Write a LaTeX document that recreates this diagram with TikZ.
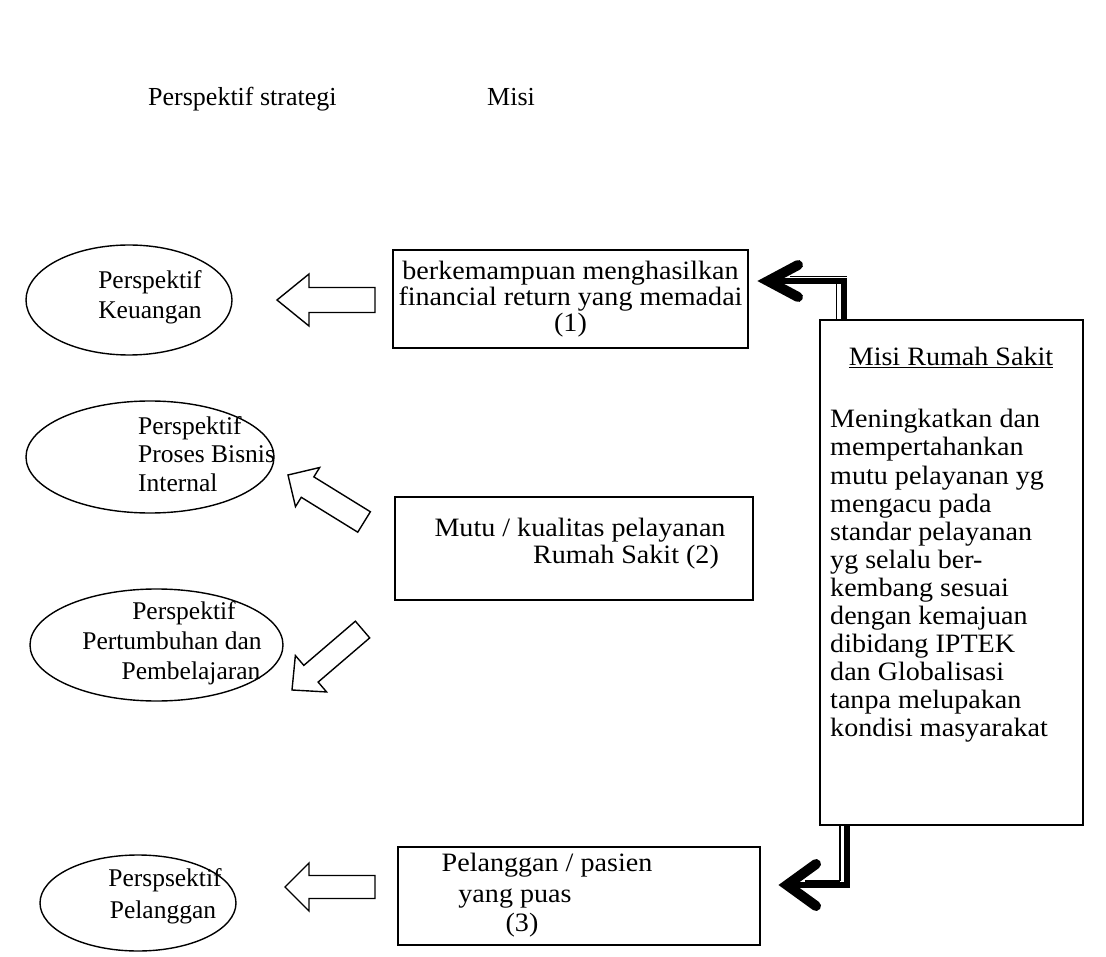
\documentclass[tikz,border=0pt]{standalone}
\usepackage{fontspec}
\setmainfont{Liberation Serif}
\newfontfamily\widefont[FakeStretch=1.06]{Liberation Serif}
\usetikzlibrary{shapes.geometric}
\begin{document}
\begin{tikzpicture}[x=1pt,y=-1pt,
  txt/.style={font=\fontsize{26}{28}\selectfont, inner sep=0pt},
  btxt/.style={font=\widefont\fontsize{26.5}{28}\selectfont, inner sep=0pt},
  etxt/.style={font=\fontsize{25.5}{28}\selectfont, inner sep=0pt},
  oval/.style={draw, ellipse, line width=1.4pt, inner sep=0pt},
  box/.style={draw, rectangle, line width=1.3pt, inner sep=0pt},
  barrow/.style={draw, line width=1.4pt, line join=miter},
  thickline/.style={line width=6pt},
  thinline/.style={line width=1.2pt},
  chev/.style={line width=10pt, line cap=round, line join=miter}]
\useasboundingbox (0,0) rectangle (1106,957);

% headers
\node[txt, anchor=base west] (h1) at (148,106) {Perspektif strategi};
\node[txt, anchor=base west] (h2) at (487,106) {Misi};

% ellipses
\node[oval, minimum width=206pt, minimum height=110pt] (e1) at (129,300) {};
\node[oval, minimum width=248pt, minimum height=112pt] (e2) at (150,457) {};
\node[oval, minimum width=253pt, minimum height=112pt] (e3) at (156.5,645) {};
\node[oval, minimum width=196pt, minimum height=96pt] (e4) at (138,903) {};

\node[etxt, anchor=base] (e1a) at (150,289) {Perspektif};
\node[etxt, anchor=base] (e1b) at (150,319) {Keuangan};
\node[etxt, anchor=base west] (e2a) at (138,435) {Perspektif};
\node[etxt, anchor=base west] (e2b) at (138,463) {Proses Bisnis};
\node[etxt, anchor=base west] (e2c) at (138,491) {Internal};
\node[etxt, anchor=base] (e3a) at (184,619) {Perspektif};
\node[etxt, anchor=base] (e3b) at (172,649) {Pertumbuhan dan};
\node[etxt, anchor=base] (e3c) at (191,679) {Pembelajaran};
\node[etxt, anchor=base] (e4a) at (165,886) {Perspsektif};
\node[etxt, anchor=base] (e4b) at (163,918) {Pelanggan};

% boxes
\node[box, minimum width=355pt, minimum height=98pt] (b1) at (570.5,299) {};
\node[box, minimum width=358pt, minimum height=103pt] (b2) at (574,548.5) {};
\node[box, minimum width=362pt, minimum height=98pt] (b3) at (579,896) {};
\node[box, minimum width=263pt, minimum height=505pt] (misi) at (951.5,572.5) {};

\node[btxt, anchor=base] (b1a) at (570.5,280) {berkemampuan menghasilkan};
\node[btxt, anchor=base] (b1b) at (570.5,306) {financial return yang memadai};
\node[btxt, anchor=base] (b1c) at (570.5,332) {(1)};
\node[btxt, anchor=base] (b2a) at (580,536) {Mutu / kualitas pelayanan};
\node[btxt, anchor=base] (b2b) at (626,563) {Rumah Sakit (2)};
\node[btxt, anchor=base] (b3a) at (547,871) {Pelanggan / pasien};
\node[btxt, anchor=base] (b3b) at (515,902) {yang puas};
\node[btxt, anchor=base] (b3c) at (522,931) {(3)};

\node[btxt, anchor=base] (mt) at (951,366) {\underline{Misi Rumah Sakit}};
\foreach \t [count=\i] in {Meningkatkan dan, mempertahankan, mutu pelayanan yg, mengacu pada, standar pelayanan, yg selalu ber-, kembang sesuai, dengan kemajuan, dibidang IPTEK, dan Globalisasi, tanpa melupakan, kondisi masyarakat}
  \node[btxt, anchor=base west] (m\i) at (830,{400+28*\i}) {\t};

% hollow block arrows
\draw[barrow] (277,300) -- (309,274) -- (309,287.5) -- (375,287.5) -- (375,312.5) -- (309,312.5) -- (309,326) -- cycle;
\draw[barrow] (285,887) -- (309,863) -- (309,875.5) -- (375,875.5) -- (375,898.5) -- (309,898.5) -- (309,911) -- cycle;
\begin{scope}[shift={(288,475)}, rotate=-31.7]
\draw[barrow] (0,0) -- (23,-23) -- (23,-12) -- (89.4,-12) -- (89.4,12) -- (23,12) -- (23,23) -- cycle;
\end{scope}
\begin{scope}[shift={(292,690)}, rotate=40.6]
\draw[barrow] (0,0) -- (25,-24) -- (25,-11) -- (92.9,-11) -- (92.9,11) -- (25,11) -- (25,24) -- cycle;
\end{scope}

% thick connectors from Misi box
\coordinate (tc) at (843.5,281);
\coordinate (ttip) at (768,281);
\coordinate (tthin) at (836.7,276.5);
\coordinate (tthinL) at (790,276.5);
\draw[thickline] (tc |- misi.north) -- (tc) -- (ttip);
\draw[thinline] (tthin |- misi.north) -- (tthin |- tc);
\draw[thinline] (tthinL) -- ([xshift=3pt]tc |- tthinL);
\draw[chev] ([shift={(30,-16)}]ttip) -- (ttip) -- ([shift={(30,16)}]ttip);

\coordinate (bc) at (847,885);
\coordinate (btip) at (787,885);
\coordinate (bthin) at (840,881);
\coordinate (bthinL) at (805,881);
\draw[thickline] (bc |- misi.south) -- (bc) -- (btip);
\draw[thinline] (bthin |- misi.south) -- (bthin);
\draw[thinline] (bthinL) -- (bthin);
\draw[chev] ([shift={(29,-21)}]btip) -- (btip) -- ([shift={(29,21)}]btip);
\end{tikzpicture}
\end{document}
